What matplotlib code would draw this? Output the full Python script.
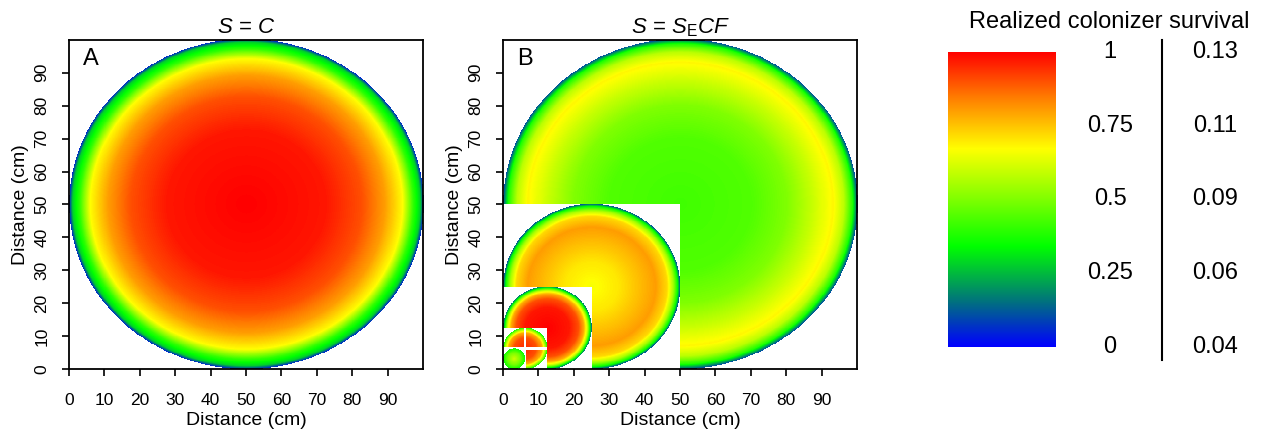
#!/usr/bin/env python3
import numpy as np
import matplotlib
matplotlib.use("Agg")
import matplotlib.pyplot as plt
from matplotlib.colors import LinearSegmentedColormap

plt.rcParams["font.family"] = ["Liberation Sans", "DejaVu Sans"]
plt.rcParams["mathtext.fontset"] = "custom"
plt.rcParams["mathtext.it"] = "Liberation Sans:italic"
plt.rcParams["mathtext.rm"] = "Liberation Sans"

# colour scale (value -> colour)
CMAP_POS = [0.0, 0.15, 0.34, 0.5, 0.67, 0.84, 1.0]
CMAP_COL = ["#0000ff", "#007080", "#00ff00", "#80ff00", "#ffff00", "#ff8000", "#ff0000"]

# panel A: one arena, radial survival profile (fraction of radius -> survival)
A_RF = [0.0, 0.45, 0.65, 0.78, 0.88, 0.94, 0.98, 1.0]
A_VAL = [1.0, 0.97, 0.9, 0.8, 0.67, 0.4, 0.28, 0.05]

# panel B: nested arenas (side in cm) and their radial profiles
B_SIZES = [100, 50, 25, 12.5, 6.25]
B_RF = [
    [0.0, 0.4, 0.6, 0.75, 0.86, 0.92, 0.97, 1.0],
    [0.0, 0.3, 0.55, 0.72, 0.85, 0.92, 0.97, 1.0],
    [0.0, 0.5, 0.7, 0.82, 0.9, 0.95, 1.0],
    [0.0, 0.5, 0.75, 0.9, 1.0],
    [0.0, 0.6, 1.0],
]
B_VAL = [
    [0.42, 0.44, 0.5, 0.6, 0.68, 0.58, 0.38, 0.1],
    [0.66, 0.7, 0.76, 0.8, 0.72, 0.55, 0.35, 0.1],
    [1.0, 0.97, 0.9, 0.78, 0.6, 0.4, 0.15],
    [0.95, 0.9, 0.78, 0.55, 0.35],
    [0.6, 0.48, 0.35],
]

CB_TICKS = [0, 0.25, 0.5, 0.75, 1]
CB_LEFT = ["0", "0.25", "0.5", "0.75", "1"]
CB_RIGHT = ["0.04", "0.06", "0.09", "0.11", "0.13"]

TICKS = np.arange(0, 100, 10)
N = 700

cmap = LinearSegmentedColormap.from_list("surv", list(zip(CMAP_POS, CMAP_COL)))
cmap.set_bad("white")

xs = (np.arange(N) + 0.5) / N * 100
X, Y = np.meshgrid(xs, xs)


def fill_circle(grid, size, rf, vals):
    R = size / 2
    r = np.hypot(X - R, Y - R) / R
    inside = (X < size) & (Y < size)
    grid[inside] = np.nan
    disk = inside & (r <= 1)
    grid[disk] = np.interp(r[disk], rf, vals)


grid_a = np.full((N, N), np.nan)
fill_circle(grid_a, 100, A_RF, A_VAL)

grid_b = np.full((N, N), np.nan)
for size, rf, vals in zip(B_SIZES, B_RF, B_VAL):
    if size == 6.25:
        # thin white cross through the 12.5 cm arena
        c = 12.5 / 2
        cross = (X < 12.5) & (Y < 12.5) & ((np.abs(X - c) < 0.35) | (np.abs(Y - c) < 0.35))
        grid_b[cross] = np.nan
    fill_circle(grid_b, size, rf, vals)

fig = plt.figure(figsize=(12.65, 4.29), dpi=100)

panels = [
    (0.0545, grid_a, "$S$ = $C$", "A"),
    (0.3976, grid_b, r"$S$ = $S_{\mathrm{E}}CF$", "B"),
]
for left, grid, title, letter in panels:
    ax = fig.add_axes([left, 0.14, 0.28, 0.767])
    ax.imshow(grid, cmap=cmap, vmin=0, vmax=1, origin="lower",
              extent=[0, 100, 0, 100], interpolation="nearest", aspect="auto")
    ax.set_xlim(0, 100)
    ax.set_ylim(0, 100)
    ax.set_xticks(TICKS)
    ax.set_yticks(TICKS)
    ax.tick_params(direction="out", length=5, width=1.2, labelsize=12.5)
    ax.tick_params(axis="x", pad=12)
    ax.tick_params(axis="y", pad=9)
    for lab in ax.get_yticklabels():
        lab.set_rotation(90)
        lab.set_va("center")
    for sp in ax.spines.values():
        sp.set_linewidth(1.3)
    ax.set_xlabel("Distance (cm)", fontsize=14, labelpad=3)
    ax.set_ylabel("Distance (cm)", fontsize=14, labelpad=4)
    ax.set_title(title, fontsize=16, pad=5)
    ax.text(0.04, 0.976, letter, transform=ax.transAxes, fontsize=17,
            ha="left", va="top")

# legend bar
cax = fig.add_axes([0.7494, 0.191, 0.0846, 0.688])
grad = np.linspace(0, 1, 256).reshape(-1, 1)
cax.imshow(grad, cmap=cmap, origin="lower", aspect="auto", extent=[0, 1, 0, 1])
cax.set_xlim(0, 1)
cax.set_ylim(0, 1)
cax.axis("off")
for t, l, r in zip(CB_TICKS, CB_LEFT, CB_RIGHT):
    cax.text(1.514, t, l, fontsize=17, ha="center", va="center", clip_on=False)
    cax.text(2.495, t, r, fontsize=17, ha="center", va="center", clip_on=False)
cax.plot([2.0, 2.0], [-0.044, 1.04], color="black", lw=1.5, clip_on=False)
cax.text(1.505, 1.10, "Realized colonizer survival", fontsize=17,
         ha="center", va="center", clip_on=False)

fig.savefig("out.png", dpi=100)
